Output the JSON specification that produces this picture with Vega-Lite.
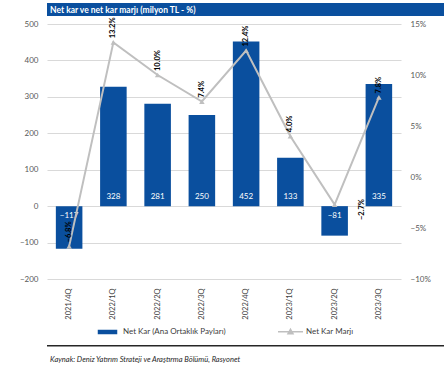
{
  "$schema": "https://vega.github.io/schema/vega-lite/v6.json",
  "padding": {"left": 15, "top": 3, "right": 7, "bottom": 0},
  "background": "white",
  "config": {
    "font": "Lato",
    "view": {"stroke": null},
    "legend": {"layout": {"bottom": {"anchor": "middle"}}}
  },
  "columns": 1,
  "align": "none",
  "spacing": 1,
  "resolve": {"scale": {"color": "independent"}, "legend": {"color": "independent"}},
  "concat": [
    {
      "width": 422,
      "height": 13,
      "view": {"fill": "#0a4f9e", "stroke": null},
      "data": {"values": [{"title": "Net kar ve net kar marjı (milyon TL - %)"}]},
      "mark": {"type": "text", "align": "left", "baseline": "middle", "dx": 3, "fontWeight": "bold", "fontSize": 8.5, "color": "white"},
      "encoding": {
        "x": {"datum": 0, "type": "quantitative", "scale": {"domain": [0, 1]}, "axis": null},
        "y": {"datum": 0.5, "type": "quantitative", "scale": {"domain": [0, 1]}, "axis": null},
        "text": {"field": "title"}
      }
    },
    {
      "width": 354,
      "height": 255,
      "data": {"values": [
        {"q": "2021/4Q", "kar": -117, "marj": -0.068},
        {"q": "2022/1Q", "kar": 328, "marj": 0.132},
        {"q": "2022/2Q", "kar": 281, "marj": 0.100},
        {"q": "2022/3Q", "kar": 250, "marj": 0.074},
        {"q": "2022/4Q", "kar": 452, "marj": 0.124},
        {"q": "2023/1Q", "kar": 133, "marj": 0.040},
        {"q": "2023/2Q", "kar": -81, "marj": -0.027},
        {"q": "2023/3Q", "kar": 335, "marj": 0.078}
      ]},
      "encoding": {
        "x": {"field": "q", "type": "ordinal", "sort": null,
          "scale": {"paddingInner": 0.4, "paddingOuter": 0.2},
          "axis": {"title": null, "labelAngle": -90, "domain": false, "ticks": false, "labelPadding": 9, "labelFontSize": 7.5, "labelColor": "#404040"}}
      },
      "layer": [
        {
          "layer": [
            {
              "mark": {"type": "bar"},
              "encoding": {
                "y": {"field": "kar", "type": "quantitative", "scale": {"domain": [-200, 500], "nice": false},
                  "axis": {"title": null, "values": [-200, -100, 0, 100, 200, 300, 400, 500], "domain": false, "ticks": false, "labelPadding": 9, "labelFontSize": 8, "labelColor": "#595959", "grid": true, "gridColor": "#d9d9d9", "minExtent": 32}},
                "color": {"datum": "Net Kar (Ana Ortaklık Payları)", "type": "nominal",
                  "scale": {"domain": ["Net Kar (Ana Ortaklık Payları)", "Net Kar Marjı"], "range": ["#0a4f9e", "#bfbfbf"]},
                  "legend": {"title": null, "orient": "bottom", "direction": "horizontal", "offset": -2, "labelFontSize": 8, "labelColor": "#404040", "symbolSize": 625, "symbolStrokeWidth": 1.5, "labelOffset": 2, "columnPadding": 49,
                    "encode": {"symbols": {"update": {
                      "shape": {"signal": "datum.value == 'Net Kar Marjı' ? 'M-1,0H1M0,-0.2L0.2,0.16H-0.2Z' : 'M-0.72,-0.12H0.72V0.12H-0.72Z'"},
                      "fill": {"scale": "color", "field": "value"},
                      "stroke": {"scale": "color", "field": "value"},
                      "strokeWidth": {"value": 1.5},
                      "opacity": {"value": 1}
                    }}}}
                }
              }
            },
            {
              "transform": [{"filter": "datum.kar >= 0"}],
              "mark": {"type": "text", "baseline": "bottom", "dy": -5, "color": "white", "fontSize": 8},
              "encoding": {
                "y": {"datum": 0, "type": "quantitative",
                  "axis": {"title": null, "values": [-200, -100, 0, 100, 200, 300, 400, 500], "domain": false, "ticks": false, "labelPadding": 9, "labelFontSize": 8, "labelColor": "#595959", "grid": true, "gridColor": "#d9d9d9", "minExtent": 32}},
                "text": {"field": "kar", "type": "quantitative"}}
            },
            {
              "transform": [{"filter": "datum.kar < 0"}],
              "mark": {"type": "text", "baseline": "top", "dy": 6, "color": "white", "fontSize": 8},
              "encoding": {
                "y": {"datum": 0, "type": "quantitative",
                  "axis": {"title": null, "values": [-200, -100, 0, 100, 200, 300, 400, 500], "domain": false, "ticks": false, "labelPadding": 9, "labelFontSize": 8, "labelColor": "#595959", "grid": true, "gridColor": "#d9d9d9", "minExtent": 32}},
                "text": {"field": "kar", "type": "quantitative"}}
            }
          ]
        },
        {
          "layer": [
            {
              "mark": {"type": "line", "strokeWidth": 2, "point": {"shape": "triangle-up", "size": 30, "filled": true}},
              "encoding": {
                "y": {"field": "marj", "type": "quantitative", "scale": {"domain": [-0.1, 0.15], "nice": false},
                  "axis": {"orient": "right", "title": null, "format": ".0%", "values": [-0.1, -0.05, 0, 0.05, 0.1, 0.15], "domain": false, "ticks": false, "grid": false, "labelPadding": 9, "labelFontSize": 8, "labelColor": "#595959"}},
                "color": {"datum": "Net Kar Marjı", "type": "nominal"}
              }
            },
            {
              "transform": [{"filter": "datum.q != '2023/2Q'"}],
              "mark": {"type": "text", "angle": 270, "align": "left", "baseline": "middle", "dx": 4, "fontSize": 7.5, "fontWeight": "bold", "color": "black"},
              "encoding": {"y": {"field": "marj", "type": "quantitative"}, "text": {"field": "marj", "type": "quantitative", "format": ".1%"}}
            },
            {
              "transform": [{"filter": "datum.q == '2023/2Q'"}],
              "mark": {"type": "text", "angle": 270, "align": "center", "baseline": "middle", "dx": -5, "dy": 27, "fontSize": 7.5, "fontWeight": "bold", "color": "black"},
              "encoding": {"y": {"field": "marj", "type": "quantitative"}, "text": {"field": "marj", "type": "quantitative", "format": ".1%"}}
            }
          ]
        }
      ],
      "resolve": {"scale": {"y": "independent"}}
    },
    {
      "width": 422,
      "height": 26,
      "data": {"values": [{"src": "Kaynak: Deniz Yatırım Strateji ve Araştırma Bölümü, Rasyonet"}]},
      "layer": [
        {
          "mark": {"type": "rule", "color": "#262626", "strokeWidth": 1.5},
          "encoding": {
            "x": {"datum": 0, "type": "quantitative", "scale": {"domain": [0, 1]}, "axis": null},
            "x2": {"datum": 1},
            "y": {"datum": 0.7, "type": "quantitative", "scale": {"domain": [0, 1]}, "axis": null}
          }
        },
        {
          "mark": {"type": "text", "align": "left", "baseline": "bottom", "fontStyle": "italic", "fontSize": 7.5, "color": "#262626", "dx": 3},
          "encoding": {
            "x": {"datum": 0, "type": "quantitative", "scale": {"domain": [0, 1]}, "axis": null},
            "y": {"datum": 0, "type": "quantitative", "scale": {"domain": [0, 1]}, "axis": null},
            "text": {"field": "src"}
          }
        }
      ]
    }
  ]
}
